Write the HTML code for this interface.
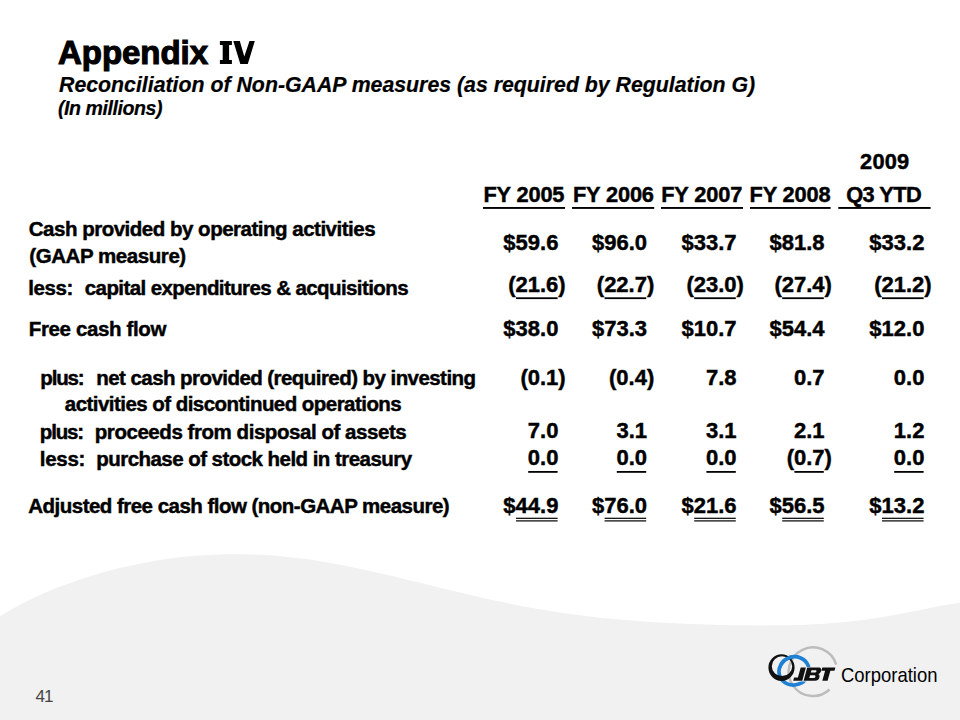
<!DOCTYPE html>
<html><head><meta charset="utf-8"><title>Appendix IV</title>
<style>
html,body{margin:0;padding:0;background:#fff;}
body{width:960px;height:720px;overflow:hidden;position:relative;font-family:"Liberation Sans",sans-serif;}
svg{position:absolute;left:0;top:0;}
svg text{font-family:"Liberation Sans",sans-serif;fill:#000;}
.ttl{font-size:33px;font-weight:700;letter-spacing:-0.05px;stroke:#000;stroke-width:1.1px;}
.sub{font-size:21.3px;font-weight:700;font-style:italic;stroke:#000;stroke-width:0.2px;}
.mil{font-size:19.6px;font-weight:700;font-style:italic;letter-spacing:-0.45px;stroke:#000;stroke-width:0.2px;}
.lbl{font-size:20.5px;font-weight:700;letter-spacing:-0.45px;stroke:#000;stroke-width:0.45px;}
.num{font-size:22px;font-weight:700;stroke:#000;stroke-width:0.45px;}
.hdr{font-size:21.8px;font-weight:700;stroke:#000;stroke-width:0.45px;}
.pg{font-size:17px;fill:#444;}
</style></head>
<body>
<svg width="960" height="720" viewBox="0 0 960 720">
<rect width="960" height="720" fill="#fff"/>
<path d="M0,616.01 C6.7,611.9 13.3,608.2 20,604.64 C26.7,601.1 33.3,597.9 40,594.93 C46.7,591.9 53.3,589.2 60,586.6 C66.7,584.0 73.3,581.7 80,579.44 C86.7,577.2 93.3,575.2 100,573.29 C106.7,571.4 113.3,569.6 120,568.04 C126.7,566.4 133.3,565.0 140,563.66 C146.7,562.3 153.3,561.1 160,560.1 C166.7,559.1 173.3,558.1 180,557.36 C186.7,556.6 193.3,555.9 200,555.45 C206.7,555.0 213.3,554.6 220,554.38 C226.7,554.2 233.3,554.1 240,554.15 C246.7,554.2 253.3,554.4 260,554.76 C266.7,555.1 273.3,555.6 280,556.17 C286.7,556.8 293.3,557.5 300,558.35 C306.7,559.2 313.3,560.2 320,561.23 C326.7,562.3 333.3,563.5 340,564.72 C346.7,566.0 353.3,567.3 360,568.74 C366.7,570.1 373.3,571.6 380,573.17 C386.7,574.7 393.3,576.3 400,577.89 C406.7,579.5 413.3,581.1 420,582.77 C426.7,584.4 433.3,586.1 440,587.7 C446.7,589.3 453.3,591.0 460,592.55 C466.7,594.1 473.3,595.7 480,597.21 C486.7,598.7 493.3,600.2 500,601.6 C506.7,603.0 513.3,604.4 520,605.65 C526.7,606.9 533.3,608.1 540,609.29 C546.7,610.4 553.3,611.5 560,612.51 C566.7,613.5 573.3,614.4 580,615.29 C586.7,616.1 593.3,616.9 600,617.65 C606.7,618.4 613.3,619.0 620,619.6 C626.7,620.2 633.3,620.7 640,621.21 C646.7,621.7 653.3,622.1 660,622.5 C666.7,622.9 673.3,623.2 680,623.53 C686.7,623.8 693.3,624.1 700,624.33 C706.7,624.6 713.3,624.8 720,624.92 C726.7,625.1 733.3,625.2 740,625.31 C746.7,625.4 753.3,625.5 760,625.48 C766.7,625.5 773.3,625.5 780,625.36 C786.7,625.3 793.3,625.1 800,624.88 C806.7,624.6 813.3,624.3 820,623.94 C826.7,623.5 833.3,623.0 840,622.43 C846.7,621.8 853.3,621.1 860,620.28 C866.7,619.4 873.3,618.5 880,617.42 C886.7,616.4 893.3,615.2 900,613.92 C906.7,612.7 913.3,611.3 920,609.98 C926.7,608.7 933.3,607.2 940,606.03 C946.7,604.8 953.3,603.6 960,602.82 C966.7,602.1 973.3,601.4 980,601.56 L960,720 L0,720 Z" fill="#f1f1f1"/>
<text x="58" y="63.8" class="ttl">Appendix</text>
<path d="M219.9,40.9H231.9V44.9H229.1V60.1H231.9V63.9H219.9V60.1H222.7V44.9H219.9Z M233.3,40.9H239.8L244.3,56.6L249.5,40.9H254.8L247.8,63.9H240.3Z" fill="#000"/>
<text x="59" y="91.7" class="sub">Reconciliation of Non-GAAP measures (as required by Regulation G)</text>
<text x="58" y="114.7" class="mil">(In millions)</text>
<text x="28.80" y="235.6" class="lbl" style="letter-spacing:-0.494px">Cash provided by operating activities</text>
<text x="29.30" y="263.0" class="lbl" style="letter-spacing:-0.435px">(GAAP measure)</text>
<text x="28.30" y="295.0" class="lbl" style="letter-spacing:-0.450px">less:</text>
<text x="84.80" y="295.0" class="lbl" style="letter-spacing:-0.597px">capital expenditures &amp; acquisitions</text>
<text x="28.80" y="335.8" class="lbl" style="letter-spacing:-0.373px">Free cash flow</text>
<text x="40.30" y="384.8" class="lbl" style="letter-spacing:-1.150px">plus:</text>
<text x="96.30" y="384.8" class="lbl" style="letter-spacing:-0.560px">net cash provided (required) by investing</text>
<text x="64.80" y="411.2" class="lbl" style="letter-spacing:-0.544px">activities of discontinued operations</text>
<text x="39.80" y="438.6" class="lbl" style="letter-spacing:-1.150px">plus:</text>
<text x="94.80" y="438.6" class="lbl" style="letter-spacing:-0.450px">proceeds from disposal of assets</text>
<text x="39.80" y="465.6" class="lbl" style="letter-spacing:-0.300px">less:</text>
<text x="96.30" y="465.6" class="lbl" style="letter-spacing:-0.547px">purchase of stock held in treasury</text>
<text x="28.30" y="512.7" class="lbl" style="letter-spacing:-0.523px">Adjusted free cash flow (non-GAAP measure)</text>
<text x="558.4" y="250.0" class="num" text-anchor="end">$59.6</text>
<text x="647.0" y="250.0" class="num" text-anchor="end">$96.0</text>
<text x="736.6" y="250.0" class="num" text-anchor="end">$33.7</text>
<text x="824.6" y="250.0" class="num" text-anchor="end">$81.8</text>
<text x="924.4" y="250.0" class="num" text-anchor="end">$33.2</text>
<text x="565.7" y="291.7" class="num" text-anchor="end">(21.6)</text>
<rect x="516.0" y="297.3" width="41.6" height="1.8" fill="#000"/>
<text x="654.3" y="291.7" class="num" text-anchor="end">(22.7)</text>
<rect x="604.6" y="297.3" width="41.6" height="1.8" fill="#000"/>
<text x="743.9" y="291.7" class="num" text-anchor="end">(23.0)</text>
<rect x="694.2" y="297.3" width="41.6" height="1.8" fill="#000"/>
<text x="831.9" y="291.7" class="num" text-anchor="end">(27.4)</text>
<rect x="782.2" y="297.3" width="41.6" height="1.8" fill="#000"/>
<text x="931.7" y="291.7" class="num" text-anchor="end">(21.2)</text>
<rect x="882.0" y="297.3" width="41.6" height="1.8" fill="#000"/>
<text x="558.4" y="336.0" class="num" text-anchor="end">$38.0</text>
<text x="647.0" y="336.0" class="num" text-anchor="end">$73.3</text>
<text x="736.6" y="336.0" class="num" text-anchor="end">$10.7</text>
<text x="824.6" y="336.0" class="num" text-anchor="end">$54.4</text>
<text x="924.4" y="336.0" class="num" text-anchor="end">$12.0</text>
<text x="565.7" y="384.8" class="num" text-anchor="end">(0.1)</text>
<text x="654.3" y="384.8" class="num" text-anchor="end">(0.4)</text>
<text x="736.6" y="384.8" class="num" text-anchor="end">7.8</text>
<text x="824.6" y="384.8" class="num" text-anchor="end">0.7</text>
<text x="924.4" y="384.8" class="num" text-anchor="end">0.0</text>
<text x="558.4" y="438.3" class="num" text-anchor="end">7.0</text>
<text x="647.0" y="438.3" class="num" text-anchor="end">3.1</text>
<text x="736.6" y="438.3" class="num" text-anchor="end">3.1</text>
<text x="824.6" y="438.3" class="num" text-anchor="end">2.1</text>
<text x="924.4" y="438.3" class="num" text-anchor="end">1.2</text>
<text x="558.4" y="465.4" class="num" text-anchor="end">0.0</text>
<rect x="528.2" y="471.0" width="29.4" height="1.8" fill="#000"/>
<text x="647.0" y="465.4" class="num" text-anchor="end">0.0</text>
<rect x="616.8" y="471.0" width="29.4" height="1.8" fill="#000"/>
<text x="736.6" y="465.4" class="num" text-anchor="end">0.0</text>
<rect x="706.4" y="471.0" width="29.4" height="1.8" fill="#000"/>
<text x="831.9" y="465.4" class="num" text-anchor="end">(0.7)</text>
<rect x="794.4" y="471.0" width="29.4" height="1.8" fill="#000"/>
<text x="924.4" y="465.4" class="num" text-anchor="end">0.0</text>
<rect x="894.2" y="471.0" width="29.4" height="1.8" fill="#000"/>
<text x="558.4" y="512.8" class="num" text-anchor="end">$44.9</text>
<rect x="516.0" y="517.7" width="41.6" height="1.2" fill="#000"/>
<rect x="516.0" y="520.3" width="41.6" height="1.2" fill="#000"/>
<text x="647.0" y="512.8" class="num" text-anchor="end">$76.0</text>
<rect x="604.6" y="517.7" width="41.6" height="1.2" fill="#000"/>
<rect x="604.6" y="520.3" width="41.6" height="1.2" fill="#000"/>
<text x="736.6" y="512.8" class="num" text-anchor="end">$21.6</text>
<rect x="694.2" y="517.7" width="41.6" height="1.2" fill="#000"/>
<rect x="694.2" y="520.3" width="41.6" height="1.2" fill="#000"/>
<text x="824.6" y="512.8" class="num" text-anchor="end">$56.5</text>
<rect x="782.2" y="517.7" width="41.6" height="1.2" fill="#000"/>
<rect x="782.2" y="520.3" width="41.6" height="1.2" fill="#000"/>
<text x="924.4" y="512.8" class="num" text-anchor="end">$13.2</text>
<rect x="882.0" y="517.7" width="41.6" height="1.2" fill="#000"/>
<rect x="882.0" y="520.3" width="41.6" height="1.2" fill="#000"/>
<text x="483.4" y="201.5" class="hdr" style="letter-spacing:-0.15px">FY 2005</text>
<rect x="483" y="207" width="82.0" height="1.9" fill="#000"/>
<text x="572.9" y="201.5" class="hdr" style="letter-spacing:-0.15px">FY 2006</text>
<rect x="572" y="207" width="82.2" height="1.9" fill="#000"/>
<text x="661.2" y="201.5" class="hdr" style="letter-spacing:-0.15px">FY 2007</text>
<rect x="661" y="207" width="82.0" height="1.9" fill="#000"/>
<text x="749.5" y="201.5" class="hdr" style="letter-spacing:-0.15px">FY 2008</text>
<rect x="750" y="207" width="80.6" height="1.9" fill="#000"/>
<text x="846.2" y="201.5" class="hdr" style="letter-spacing:-0.55px">Q3 YTD</text>
<rect x="838.3" y="207" width="92.3" height="1.9" fill="#000"/>
<text x="860.1" y="168.7" class="hdr" style="letter-spacing:0.2px">2009</text>
<text x="35.6" y="701.8" class="pg" style="letter-spacing:-1.1px">41</text>
<!-- logo -->
<g>
<path d="M829.5,689.5 A24.3,24.3 0 1,1 836.2,664.6" fill="none" stroke="#bcbcbc" stroke-width="2.5"/>
<defs><clipPath id="cx"><rect x="783" y="650" width="14" height="14"/></clipPath></defs>
<ellipse cx="794" cy="670.9" rx="15.1" ry="14" fill="none" stroke="#1f80d4" stroke-width="3.7" transform="rotate(-20 794 670.9)"/>
<path fill-rule="evenodd" fill="#111" d="M768.4,667.6 a13.1,13.3 0 1,0 26.2,0 a13.1,13.3 0 1,0 -26.2,0 Z M771.8,666.2 a10.2,9.9 0 1,0 20.4,0 a10.2,9.9 0 1,0 -20.4,0 Z"/>
<ellipse cx="794" cy="670.9" rx="15.1" ry="14" fill="none" stroke="#1f80d4" stroke-width="3.7" transform="rotate(-20 794 670.9)" clip-path="url(#cx)"/>
<path d="M800.7,667.6 L805.9,667.6 L802.3,680.7 L793.2,680.7 L794.1,677.6 L797.9,677.6 Z M807.2,667.6 L818.6,667.6 C821.2,667.6 821.6,669.6 821,671.2 C820.6,672.6 819.6,673.6 818.2,674 C819.3,674.5 819.9,675.8 819.4,677.4 C818.8,679.6 817.4,680.7 815.2,680.7 L803.6,680.7 Z M811.5,670.2 L810.8,672.6 L814.6,672.6 C815.6,672.6 816.2,672 816.4,671.4 C816.6,670.6 816.2,670.2 815.4,670.2 Z M810.1,675.2 L809.3,678.1 L813.6,678.1 C814.6,678.1 815.2,677.5 815.4,676.7 C815.6,675.8 815.1,675.2 814.2,675.2 Z M822.3,667.6 L835.4,667.6 L834.5,670.8 L830.4,670.8 L827.6,680.7 L822.3,680.7 L825.1,670.8 L821.4,670.8 Z" fill="#111" fill-rule="evenodd" stroke="#f6f6f6" stroke-width="1.4" paint-order="stroke" stroke-linejoin="round"/>
<text x="841" y="681.5" font-size="21" fill="#2a2a2a" textLength="96.5" lengthAdjust="spacingAndGlyphs">Corporation</text>
</g>
</svg>
</body></html>
